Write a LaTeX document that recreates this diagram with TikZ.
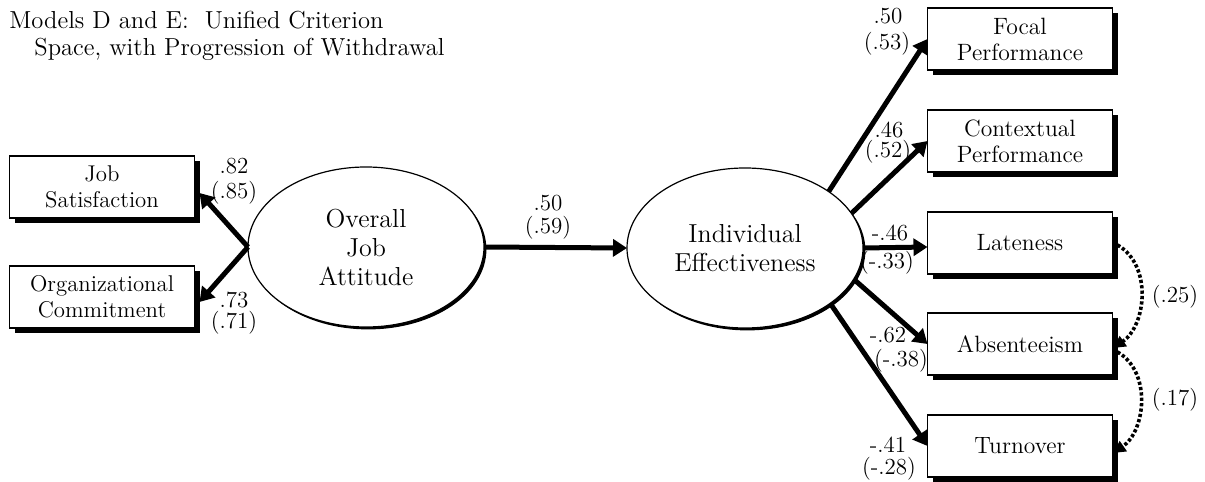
\documentclass[tikz,border=0pt]{standalone}
\usepackage{tkz-graph}
\usetikzlibrary{arrows.meta}
\usetikzlibrary{shapes, shadows}

\begin{document}
\begin{tikzpicture}[x = 0.5pt, y = -0.5pt, font = \fontsize{11}{12.5}\selectfont]
	\tikzstyle{VertexStyle} = []
	\tikzstyle{EdgeStyle} = []
	\tikzstyle{boxStyle}=[shape = rectangle, minimum width = 92.5pt, minimum height = 31pt, inner sep = 1pt, align = center, draw, line width = 0.6pt, fill = white, font = \fontsize{11.4}{12.8}\selectfont, drop shadow = {shadow xshift = 2.5pt, shadow yshift = -2.5pt, fill = black, opacity = 1}]
	\tikzstyle{outcomeStyle}=[boxStyle, font = \fontsize{11.8}{13}\selectfont]
	\tikzstyle{latentStyle}=[shape = ellipse, minimum width = 118pt, minimum height = 80pt, inner sep = 1pt, align = center, draw, line width = 0.6pt, fill = white, font = \fontsize{13}{14.5}\selectfont, drop shadow = {shadow xshift = 1.2pt, shadow yshift = -1.2pt, fill = black, opacity = 1}]
	\tikzstyle{pathStyle}=[line width = 2.5pt, -{Triangle[length = 7pt, width = 8.5pt]}]
	\tikzstyle{corrStyle}=[line width = 1.8pt, dash pattern = on 1.6pt off 1.1pt, -{Triangle[length = 6pt, width = 6pt]}]
	\tikzstyle{coefStyle}=[anchor = base, inner sep = 0pt, font = \fontsize{11.5}{12.5}\selectfont]
	\tikzstyle{titleStyle}=[anchor = base west, inner sep = 0pt, font = \fontsize{12.3}{13}\selectfont]
	\useasboundingbox (0, 0) rectangle (1205, 482);
	% title
	\node[titleStyle] (title1) at (9, 28) {Models D and E:\ \ Unified Criterion};
	\node[titleStyle] (title2) at (34, 55) {Space, with Progression of Withdrawal};
	% measured variables and latent factors
	\Vertex[style = boxStyle, x = 102, y = 187, L = {Job\\Satisfaction}]{js}
	\Vertex[style = boxStyle, x = 102, y = 297, L = {Organizational\\Commitment}]{oc}
	\Vertex[style = latentStyle, x = 366, y = 247, L = {Overall\\Job\\Attitude}]{oja}
	\Vertex[style = latentStyle, x = 745, y = 248, L = {Individual\\Effectiveness}]{ie}
	\Vertex[style = outcomeStyle, x = 1020, y = 39, L = {Focal\\Performance}]{foc}
	\Vertex[style = outcomeStyle, x = 1020, y = 141, L = {Contextual\\Performance}]{con}
	\Vertex[style = outcomeStyle, x = 1020, y = 243, L = {Lateness}]{lat}
	\Vertex[style = outcomeStyle, x = 1020, y = 344, L = {Absenteeism}]{abs}
	\Vertex[style = outcomeStyle, x = 1020, y = 446, L = {Turnover}]{tur}
	% paths
	\draw[pathStyle] (oja.west) -- ([xshift = 2.5pt, yshift = -3pt]js.east);
	\draw[pathStyle] (oja.west) -- ([xshift = 2.5pt, yshift = -2.5pt]oc.east);
	\draw[pathStyle] (oja.east) -- (ie.west);
	\draw[pathStyle] (ie.34) -- (foc.west);
	\draw[pathStyle] (ie.18) -- (con.west);
	\draw[pathStyle] (ie.east) -- ([yshift = -2pt]lat.west);
	\draw[pathStyle] (ie.-16) -- (abs.west);
	\draw[pathStyle] (ie.-33) -- (tur.west);
	% correlated withdrawal
	\draw[corrStyle] ([xshift = 2.5pt, yshift = -1pt]lat.east) to[out = -30, in = 35] ([xshift = 0.5pt, yshift = -2pt]abs.east);
	\draw[corrStyle] ([xshift = 2.5pt, yshift = -4pt]abs.east) to[out = -30, in = 35] ([xshift = 0.5pt, yshift = -3.5pt]tur.east);
	% coefficients
	\node[coefStyle] (c82) at (234, 173) {.82};
	\node[coefStyle] (c85) at (234, 198) {(.85)};
	\node[coefStyle] (c73) at (234, 307) {.73};
	\node[coefStyle] (c71) at (234, 328) {(.71)};
	\node[coefStyle] (c50) at (548, 210) {.50};
	\node[coefStyle] (c59) at (548, 233) {(.59)};
	\node[coefStyle] (c50f) at (888, 24) {.50};
	\node[coefStyle] (c53) at (887, 49) {(.53)};
	\node[coefStyle] (c46) at (889, 137) {.46};
	\node[coefStyle] (c52) at (888, 157) {(.52)};
	\node[coefStyle] (c46l) at (890, 240) {-.46};
	\node[coefStyle] (c33) at (887, 268) {(-.33)};
	\node[coefStyle] (c62) at (888, 342) {-.62};
	\node[coefStyle] (c38) at (901, 366) {(-.38)};
	\node[coefStyle] (c41) at (888, 452) {-.41};
	\node[coefStyle] (c28) at (889, 474) {(-.28)};
	\node[coefStyle] (c25) at (1175, 302) {(.25)};
	\node[coefStyle] (c17) at (1175, 405) {(.17)};
\end{tikzpicture}
\end{document}
